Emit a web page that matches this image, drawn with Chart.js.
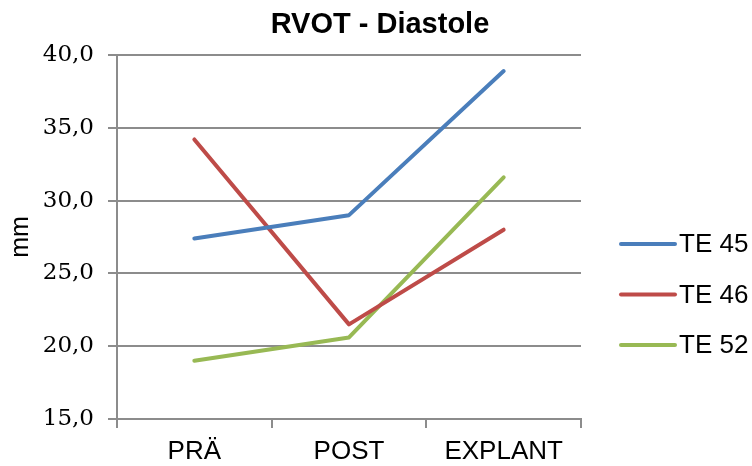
<!DOCTYPE html>
<html>
<head>
<meta charset="utf-8">
<script src="https://cdn.jsdelivr.net/npm/chart.js@4/dist/chart.umd.min.js"></script>
<style>
  html, body { margin: 0; padding: 0; background: #ffffff; }
  #wrap { width: 752px; height: 466px; position: relative; }
</style>
</head>
<body>
<div id="wrap"><canvas id="c" width="752" height="466"></canvas></div>
<script>
const chartTitle = 'RVOT - Diastole';
const yAxisTitle = 'mm';
const categories = ['PRÄ', 'POST', 'EXPLANT'];
const seriesNames = ['TE 45', 'TE 46', 'TE 52'];
const te45 = [27.4, 29.0, 38.9];
const te46 = [34.2, 21.5, 28.0];
const te52 = [19.0, 20.6, 31.6];
const seriesColors = ['#4A7EBB', '#BE4B48', '#98B954'];
const yMin = 15, yMax = 40, yStep = 5;

const gridColor = '#8C8C8C';
const sans = '"Liberation Sans", Arial, sans-serif';

const titlePlugin = {
  id: 'centerTitle',
  afterDraw(chart) {
    const ctx = chart.ctx;
    ctx.save();
    ctx.font = 'bold 29px ' + sans;
    ctx.fillStyle = '#000000';
    ctx.textAlign = 'center';
    ctx.textBaseline = 'alphabetic';
    ctx.fillText(chartTitle, 380, 33);
    ctx.restore();
  }
};

const legendPlugin = {
  id: 'sideLegend',
  afterDraw(chart) {
    const ctx = chart.ctx;
    const ds = chart.data.datasets;
    ctx.save();
    ctx.font = '26px ' + sans;
    ctx.textBaseline = 'middle';
    ctx.textAlign = 'left';
    const x0 = 621, x1 = 675, tx = 679;
    const y0 = 244, dy = 50.5;
    ds.forEach((d, i) => {
      const y = y0 + i * dy;
      ctx.strokeStyle = d.borderColor;
      ctx.lineWidth = 4;
      ctx.lineCap = 'round';
      ctx.beginPath();
      ctx.moveTo(x0, y);
      ctx.lineTo(x1, y);
      ctx.stroke();
      ctx.fillStyle = '#000000';
      ctx.fillText(d.label, tx, y + 1);
    });
    ctx.restore();
  }
};

const data = {
  labels: categories,
  datasets: [te45, te46, te52].map((vals, i) => ({
    label: seriesNames[i],
    data: vals,
    borderColor: seriesColors[i],
    backgroundColor: seriesColors[i],
    borderWidth: 4,
    pointRadius: 0,
    pointHoverRadius: 0,
    tension: 0,
    fill: false,
    borderCapStyle: 'round',
    borderJoinStyle: 'round'
  }))
};

new Chart(document.getElementById('c'), {
  type: 'line',
  data,
  plugins: [titlePlugin, legendPlugin],
  options: {
    responsive: false,
    animation: false,
    devicePixelRatio: 1,
    layout: { padding: { top: 55, right: 171, bottom: 0, left: 0 } },
    plugins: {
      legend: { display: false },
      tooltip: { enabled: false },
      title: { display: false }
    },
    scales: {
      x: {
        offset: true,
        grid: {
          display: true,
          offset: true,
          drawOnChartArea: false,
          drawTicks: true,
          tickLength: 9,
          color: gridColor,
          lineWidth: 2
        },
        border: { display: true, color: gridColor, width: 2 },
        ticks: {
          color: '#000000',
          font: { family: sans, size: 26 },
          padding: 8,
          maxRotation: 0
        },
        afterFit(scale) { scale.height = 47; }
      },
      y: {
        min: yMin,
        max: yMax,
        grid: {
          display: true,
          drawOnChartArea: true,
          drawTicks: true,
          tickLength: 9,
          color: gridColor,
          lineWidth: 2
        },
        border: { display: true, color: gridColor, width: 2 },
        ticks: {
          stepSize: yStep,
          color: '#000000',
          font: { family: '"DejaVu Serif", serif', size: 23 },
          padding: 14,
          callback: (v) => Number(v).toFixed(1).replace('.', ',')
        },
        title: {
          display: true,
          text: yAxisTitle,
          color: '#000000',
          font: { family: sans, size: 25 },
          padding: { top: 6, bottom: 0 }
        },
        afterFit(scale) { scale.width = 117; }
      }
    }
  }
});
</script>
</body>
</html>
